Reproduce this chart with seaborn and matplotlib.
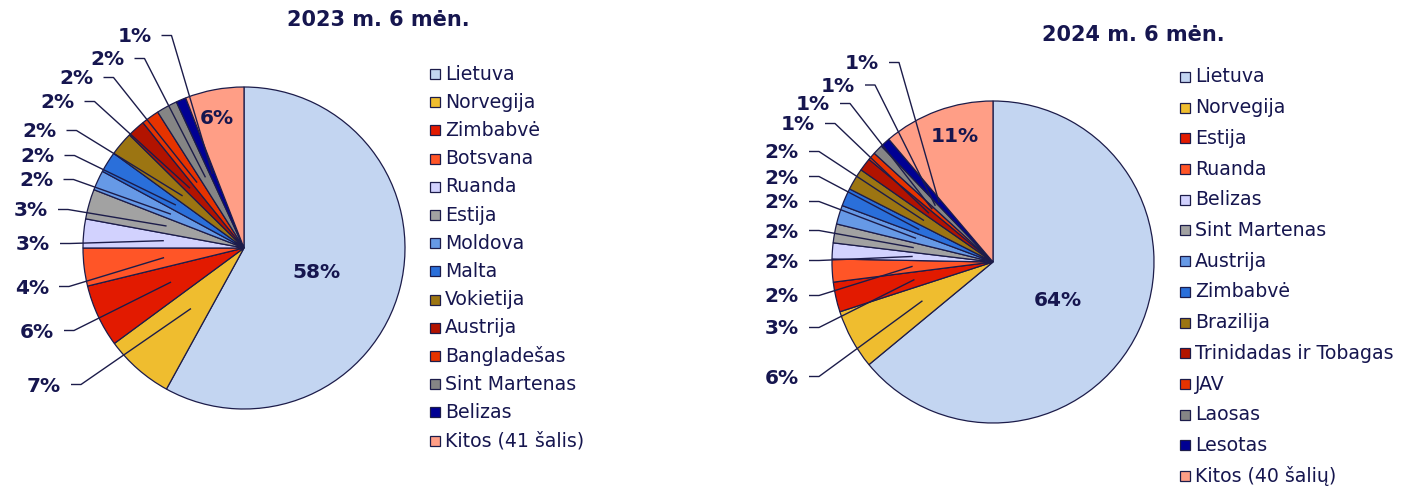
import matplotlib
matplotlib.use("Agg")
import matplotlib.pyplot as plt
from matplotlib.patches import Rectangle
import seaborn as sns
import numpy as np

sns.set_theme(style="white")
plt.rcParams['font.family'] = ['DejaVu Sans']

# ---------------- data ----------------
cats_2023 = ["Lietuva", "Norvegija", "Zimbabvė", "Botsvana", "Ruanda", "Estija",
             "Moldova", "Malta", "Vokietija", "Austrija", "Bangladešas",
             "Sint Martenas", "Belizas", "Kitos (41 šalis)"]
vals_2023 = [58.0, 6.9, 6.3, 3.8, 2.9, 3.0, 2.0, 2.1, 2.4, 1.8, 1.8, 2.1, 1.0, 5.9]

cats_2024 = ["Lietuva", "Norvegija", "Estija", "Ruanda", "Belizas", "Sint Martenas",
             "Austrija", "Zimbabvė", "Brazilija", "Trinidadas ir Tobagas", "JAV",
             "Laosas", "Lesotas", "Kitos (40 šalių)"]
vals_2024 = [64.0, 6.0, 3.0, 2.3, 1.6, 1.9, 1.9, 1.8, 2.2, 1.3, 0.8, 1.0, 1.0, 11.2]

titles = ["2023 m. 6 mėn.", "2024 m. 6 mėn."]

# ---------------- style ----------------
colors = ["#C3D5F1", "#EFBD2F", "#E21A00", "#FF5527", "#D2D2FE", "#A2A2A2",
          "#6699E6", "#2A6FDA", "#9C7512", "#B21300", "#E63300", "#858585",
          "#000093", "#FF9E86"]
EDGE = "#1C1C4A"
TXT = "#16164F"

W, H = 1413, 486
fig = plt.figure(figsize=(W / 100, H / 100), dpi=100)

# layout (pixels): pie centre, radius, axes extent
layouts = [
    dict(cx=244, cy=248, r=161, x0=0, x1=420,
         title=(378, 20),
         inner=[(317, 273), (217, 119)],
         outer=[(61, 386), (54, 332), (49, 288), (50, 245), (48, 211), (53.5, 181),
                (54.5, 157), (56.5, 132), (74.5, 103), (93.5, 79), (124.5, 60), (151.5, 37)],
         leg_x=430, leg_y0=74, leg_dy=28.2),
    dict(cx=993, cy=262, r=161, x0=700, x1=1170,
         title=(1133, 35),
         inner=[(1058, 301), (955, 137)],
         outer=[(799, 378), (799, 329), (799, 297), (799, 262), (799, 232), (799, 203),
                (799, 178), (799, 153), (815, 125), (830, 105), (855, 86.5), (879, 64)],
         leg_x=1180, leg_y0=77, leg_dy=30.7),
]

datasets = [(cats_2023, vals_2023), (cats_2024, vals_2024)]

for (cats, vals), L, title in zip(datasets, layouts, titles):
    cx, cy, r = L["cx"], L["cy"], L["r"]
    ax = fig.add_axes([L["x0"] / W, 0, (L["x1"] - L["x0"]) / W, 1])

    def px(x, y, cx=cx, cy=cy, r=r):
        return ((x - cx) / r, (cy - y) / r)

    wedges, _ = ax.pie(vals, colors=colors, startangle=90, counterclock=False, radius=1,
                       wedgeprops=dict(edgecolor=EDGE, linewidth=0.9))
    ax.set_xlim((L["x0"] - cx) / r, (L["x1"] - cx) / r)
    ax.set_ylim((cy - H) / r, cy / r)
    ax.set_aspect('auto')
    ax.axis('off')

    labels = [f"{round(v)}%" for v in vals]

    # inner labels: first and last slice
    for idx, pos in zip([0, len(vals) - 1], L["inner"]):
        x, y = px(*pos)
        ax.text(x, y, labels[idx], ha='center', va='center', fontsize=14.5,
                fontweight='bold', color=TXT)

    # outer labels with leader lines
    for k, pos in enumerate(L["outer"]):
        idx = k + 1
        w = wedges[idx]
        mid = np.deg2rad((w.theta1 + w.theta2) / 2)
        ex, ey = 0.5 * np.cos(mid), 0.5 * np.sin(mid)
        rx, ry = pos
        tx, ty = px(rx, ry)
        ax.text(tx, ty, labels[idx], ha='right', va='center', fontsize=14.5,
                fontweight='bold', color=TXT)
        sx, sy = px(rx + 10, ry - 1.5)
        kx, ky = px(rx + 20, ry - 1.5)
        ax.plot([sx, kx, ex], [sy, ky, ey], color=EDGE, lw=1.0, solid_capstyle='butt')

    # title
    tx, ty = L["title"]
    fig.text(tx / W, 1 - ty / H, title, ha='center', va='center', fontsize=15,
             fontweight='bold', color=TXT)

    # legend
    for i, (c, name) in enumerate(zip(colors, cats)):
        y = L["leg_y0"] + i * L["leg_dy"]
        rect = Rectangle((L["leg_x"] / W, 1 - (y + 5) / H), 10 / W, 10 / H,
                         transform=fig.transFigure, facecolor=c, edgecolor=EDGE, lw=0.9)
        fig.add_artist(rect)
        fig.text((L["leg_x"] + 15) / W, 1 - y / H, name, ha='left', va='center',
                 fontsize=13.6, color=TXT)

fig.savefig("out.png", dpi=100, facecolor="white")
